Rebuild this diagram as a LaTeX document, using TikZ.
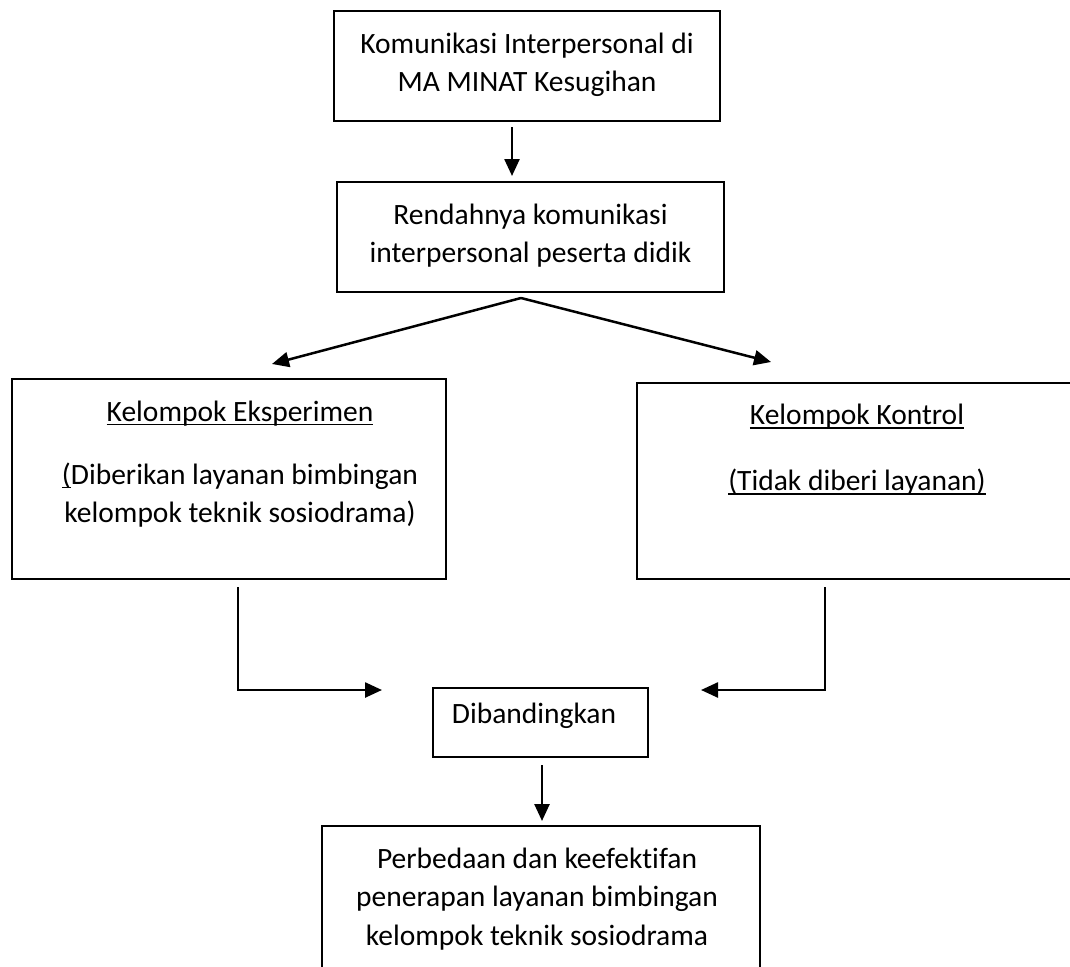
\documentclass[tikz,border=0pt]{standalone}
\usepackage{fontspec}
\setmainfont{Carlito}[Ligatures={NoCommon}]
\usetikzlibrary{arrows.meta}
\newcommand{\ulx}[1]{\begingroup\setbox0=\hbox{#1}\rlap{\rule[-4pt]{\wd0}{1.8pt}}\box0\endgroup}
\begin{document}
\begin{tikzpicture}[x=1pt,y=-1pt,
  box/.style={draw, line width=2pt, inner sep=0pt},
  txt/.style={align=center, inner sep=0pt, font=\fontsize{29.5pt}{38pt}\selectfont},
  arr/.style={line width=2.5pt, -{Triangle[length=17pt,width=15pt]}}]
\useasboundingbox (0,0) rectangle (1070,966);
% boxes
\node[box, minimum width=386pt, minimum height=110pt] (b1) at (527,66) {};
\node[txt] (t1) at (527,64.5) {Komunikasi Interpersonal di\\MA MINAT Kesugihan};
\node[box, minimum width=387pt, minimum height=110pt] (b2) at (530.5,237) {};
\node[txt] (t2) at (530.5,236) {Rendahnya komunikasi\\interpersonal peserta didik};
\node[box, minimum width=434pt, minimum height=200pt] (b3) at (229,479) {};
\node[txt] (t3) at (240,464) {\ulx{Kelompok Eksperimen}\\[25pt]\ulx{(}Diberikan layanan bimbingan\\kelompok teknik sosiodrama)};
\node[box, minimum width=440pt, minimum height=196pt] (b4) at (857,481) {};
\node[txt] (t4) at (857,450) {\ulx{Kelompok Kontrol}\\[28pt]\ulx{(Tidak diberi layanan)}};
\node[box, minimum width=215pt, minimum height=69pt] (b5) at (540.5,722.5) {};
\node[txt, anchor=base] (t5) at (534,723) {Dibandingkan};
\node[box, minimum width=438pt, minimum height=180pt] (b6) at (541,916) {};
\node[txt, font=\fontsize{29.5pt}{38.5pt}\selectfont] (t6) at (537,899) {Perbedaan dan keefektifan\\penerapan layanan bimbingan\\kelompok teknik sosiodrama};
% connectors
\coordinate (a1s) at (512,127);
\draw[arr, shorten >=5pt] (a1s) -- (a1s |- b2.north);
\coordinate (sp) at (521,298);
\coordinate (lt) at (272,364);
\coordinate (rt) at (771,362);
\draw[arr] (sp) -- (lt);
\draw[arr] (sp) -- (rt);
\coordinate (l1) at (238,587);
\coordinate (lend) at (382,690);
\draw[arr] (l1) |- (lend);
\coordinate (r1) at (825,587);
\coordinate (rend) at (701,690);
\draw[arr] (r1) |- (rend);
\coordinate (a5s) at (542,765);
\draw[arr, shorten >=4pt] (a5s) -- (a5s |- b6.north);
\end{tikzpicture}
\end{document}
